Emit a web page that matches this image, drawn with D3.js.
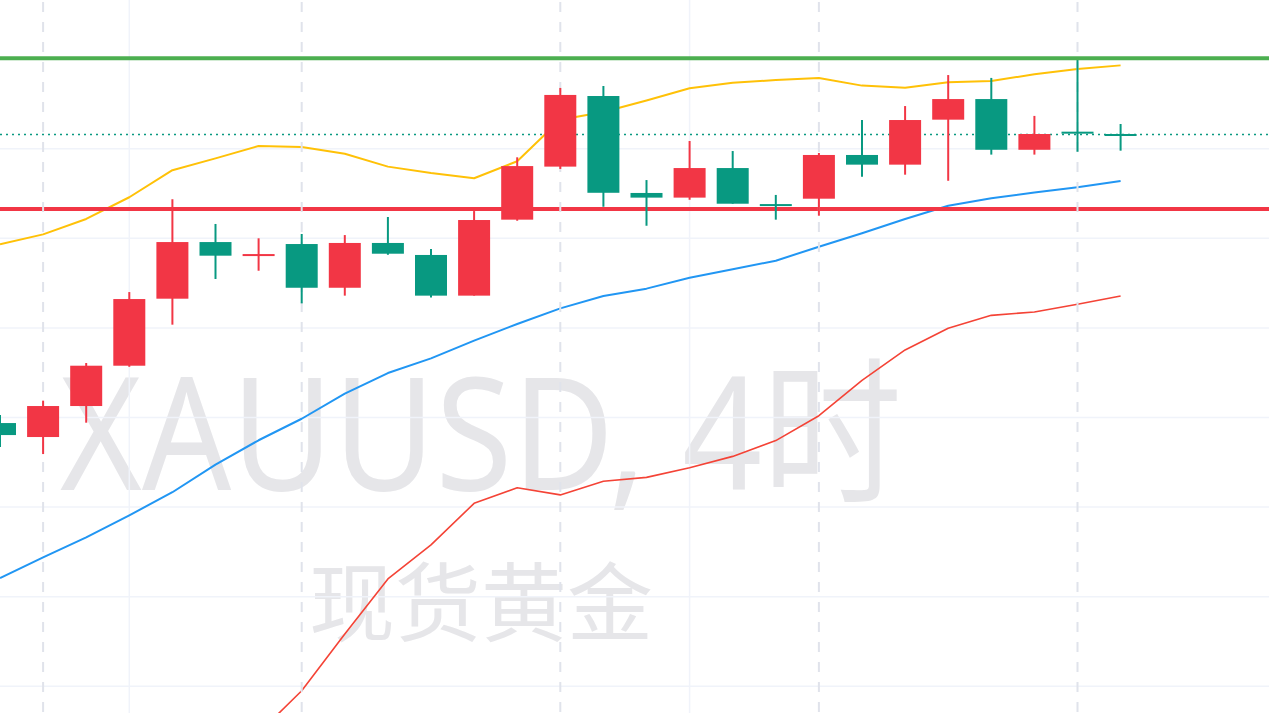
<!DOCTYPE html>
<html>
<head>
<meta charset="UTF-8">
<script src="https://d3js.org/d3.v7.min.js"></script>
<style>
	body{
		margin: 0;
		background-color: #ffffff;
		overflow: hidden;
	}
	svg{
		display: block;
	}
</style>
</head>
<body>
<svg id="chart"></svg>
<script>
	// 4h candles, index 0 sits on the left edge
	var opens  = [2649.69, 2648.91, 2650.64, 2652.89, 2656.63, 2659.79, 2659.04, 2659.68, 2657.24, 2659.74,
	              2659.07, 2656.80, 2661.04, 2664.00, 2667.94, 2662.53, 2662.27, 2663.92, 2661.91, 2662.21,
	              2664.65, 2664.11, 2666.62, 2667.77, 2664.94, 2665.95, 2665.82];
	var highs  = [2650.14, 2650.94, 2653.04, 2657.00, 2662.18, 2660.80, 2660.00, 2660.24, 2660.18, 2661.19,
	              2659.40, 2661.52, 2664.52, 2668.39, 2668.50, 2663.25, 2665.43, 2664.87, 2662.42, 2664.76,
	              2666.60, 2667.38, 2669.11, 2668.95, 2666.83, 2670.03, 2666.38];
	var lows   = [2648.35, 2647.96, 2649.71, 2652.83, 2655.18, 2657.73, 2658.19, 2656.37, 2656.80, 2659.08,
	              2656.69, 2656.80, 2660.98, 2663.87, 2661.76, 2660.70, 2662.15, 2661.93, 2661.04, 2661.26,
	              2663.44, 2663.55, 2663.21, 2664.67, 2664.67, 2664.83, 2664.89];
	var closes = [2649.02, 2650.64, 2652.89, 2656.61, 2659.79, 2659.03, 2659.12, 2657.24, 2659.74, 2659.14,
	              2656.80, 2661.02, 2664.03, 2668.00, 2662.54, 2662.27, 2663.92, 2661.93, 2661.82, 2664.65,
	              2664.11, 2666.60, 2667.77, 2664.94, 2665.82, 2665.84, 2665.79];

	// Moving averages (same index as candles)
	var maYellow = [2659.67, 2660.22, 2661.08, 2662.29, 2663.80, 2664.46, 2665.15, 2665.10, 2664.72, 2664.00,
	                2663.64, 2663.35, 2664.30, 2666.62, 2667.05, 2667.69, 2668.37, 2668.68, 2668.83, 2668.95,
	                2668.52, 2668.40, 2668.71, 2668.78, 2669.15, 2669.45, 2669.65];
	var maBlue   = [2641.04, 2642.20, 2643.31, 2644.54, 2645.83, 2647.37, 2648.73, 2649.93, 2651.33, 2652.48,
	                2653.30, 2654.29, 2655.22, 2656.09, 2656.78, 2657.19, 2657.80, 2658.27, 2658.75, 2659.53,
	                2660.28, 2661.08, 2661.82, 2662.23, 2662.55, 2662.85, 2663.20];
	var maRed    = [null, null, null, null, null, null, 2632.39, 2634.75, 2637.92, 2640.99,
	                2642.89, 2645.21, 2646.08, 2645.68, 2646.44, 2646.66, 2647.20, 2647.83, 2648.71, 2650.10,
	                2652.07, 2653.77, 2654.98, 2655.70, 2655.89, 2656.32, 2656.78];

	var priceTicks = [2635, 2640, 2645, 2650, 2655, 2660, 2665, 2670];
	var resistance = 2670.05;
	var support = 2661.63;
	var dayBreaks = [1, 7, 13, 19, 25];
	var timeLines = [3, 16];
	var symbolText = "XAUUSD, 4时";
	var nameText = "现货黄金";

	var red = "#f23645";
	var green = "#089981";
	var gridColor = "#f0f3fa";

	var width = window.innerWidth;
	var height = window.innerHeight;
	var candleStep = 43.1;
	var bodyWidth = 32;

	var svg = d3.select("#chart")
				.attr("width", width)
				.attr("height", height);

	var x = d3.scaleLinear()
				.domain([0, closes.length - 1])
				.range([0, candleStep * (closes.length - 1)]);
	var y = d3.scaleLinear()
				.domain([2635, 2665])
				.range([686.3, 148.7]);

	// Watermark
	var mark = svg.append("g").attr("id", "watermark");
	mark.append("text")
		.text(symbolText)
		.attr("x", 60)
		.attr("y", 490)
		.attr("textLength", 842)
		.attr("lengthAdjust", "spacingAndGlyphs")
		.attr("font-family", "'Noto Sans', 'Noto Sans CJK SC', sans-serif")
		.attr("font-size", 157)
		.attr("fill", "#e6e6e9");
	mark.append("text")
		.text(nameText)
		.attr("x", 481)
		.attr("y", 635)
		.attr("text-anchor", "middle")
		.attr("font-family", "'Noto Sans CJK SC', sans-serif")
		.attr("font-size", 86)
		.attr("fill", "#e6e6e9");

	// Grid
	svg.append("g")
		.attr("id", "hgrid")
		.selectAll("line")
		.data(priceTicks).enter()
		.append("line")
		.attr("x1", 0)
		.attr("x2", width)
		.attr("y1", d => y(d))
		.attr("y2", d => y(d))
		.attr("stroke", gridColor)
		.attr("stroke-width", 1.5);
	svg.append("g")
		.attr("id", "vgrid")
		.selectAll("line")
		.data(timeLines).enter()
		.append("line")
		.attr("x1", d => x(d))
		.attr("x2", d => x(d))
		.attr("y1", 0)
		.attr("y2", height)
		.attr("stroke", gridColor)
		.attr("stroke-width", 1.5);

	// Moving averages
	function drawMA(values, color, w){
		var line = d3.line()
					.defined(d => d != null)
					.x((d, i) => x(i))
					.y(d => y(d));
		svg.append("path")
			.datum(values)
			.attr("d", line)
			.attr("fill", "none")
			.attr("stroke", color)
			.attr("stroke-width", w)
			.attr("stroke-linejoin", "round");
	}
	drawMA(maRed, "#f44336", 1.6);
	drawMA(maBlue, "#2196f3", 2);
	drawMA(maYellow, "#ffc107", 2);

	// Support line
	svg.append("line")
		.attr("x1", 0)
		.attr("x2", width)
		.attr("y1", y(support))
		.attr("y2", y(support))
		.attr("stroke", "#f23645")
		.attr("stroke-width", 4);

	// Day separators
	svg.append("g")
		.attr("id", "daybreaks")
		.selectAll("line")
		.data(dayBreaks).enter()
		.append("line")
		.attr("x1", d => x(d))
		.attr("x2", d => x(d))
		.attr("y1", 2)
		.attr("y2", height)
		.attr("stroke", "#e0e3eb")
		.attr("stroke-width", 2)
		.attr("stroke-dasharray", "10,10");

	// Last price line
	var last = closes[closes.length - 1];
	svg.append("line")
		.attr("x1", 0)
		.attr("x2", width)
		.attr("y1", y(last))
		.attr("y2", y(last))
		.attr("stroke", closes[closes.length - 1] >= opens[opens.length - 1] ? red : green)
		.attr("stroke-width", 1.5)
		.attr("stroke-dasharray", "2,4");

	// Candles
	var candles = svg.append("g")
					.attr("id", "candles")
					.selectAll("g")
					.data(closes.map((c, i) => ({i: i, o: opens[i], h: highs[i], l: lows[i], c: c})))
					.enter()
					.append("g");
	candles.append("line")
		.attr("x1", d => x(d.i))
		.attr("x2", d => x(d.i))
		.attr("y1", d => y(d.h))
		.attr("y2", d => y(d.l))
		.attr("stroke", d => d.c >= d.o ? red : green)
		.attr("stroke-width", 2);
	candles.append("rect")
		.attr("x", d => x(d.i) - bodyWidth / 2)
		.attr("y", d => y(Math.max(d.o, d.c)))
		.attr("width", bodyWidth)
		.attr("height", d => Math.max(2, Math.abs(y(d.o) - y(d.c))))
		.attr("fill", d => d.c >= d.o ? red : green);

	// Resistance line
	svg.append("line")
		.attr("x1", 0)
		.attr("x2", width)
		.attr("y1", y(resistance))
		.attr("y2", y(resistance))
		.attr("stroke", "#4caf50")
		.attr("stroke-width", 4);
</script>
</body>
</html>
